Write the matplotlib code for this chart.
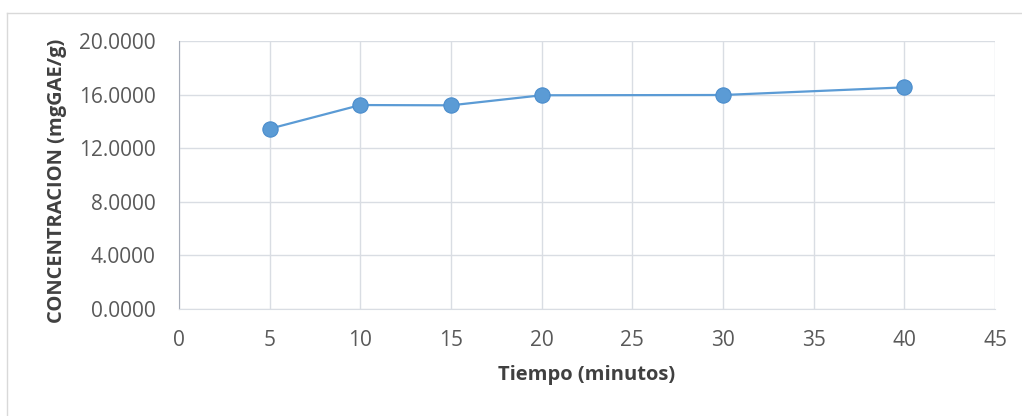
import matplotlib
matplotlib.use("Agg")
import matplotlib.pyplot as plt
from matplotlib.lines import Line2D

tiempo = [5, 10, 15, 20, 30, 40]
concentracion = [13.45, 15.22, 15.20, 15.95, 15.97, 16.54]
x_ticks = [0, 5, 10, 15, 20, 25, 30, 35, 40, 45]
y_ticks = [0, 4, 8, 12, 16, 20]

plt.rcParams['font.family'] = ['Open Sans', 'DejaVu Sans']
W, H = 1022, 416
fig = plt.figure(figsize=(W/100, H/100), dpi=100)
fig.patch.set_facecolor('white')
bx, by = 6.5/W, 1 - 12.5/H
fig.lines.append(Line2D([bx, bx], [0, by], transform=fig.transFigure, color='#d9d9d9', linewidth=1))
fig.lines.append(Line2D([bx, 1.0], [by, by], transform=fig.transFigure, color='#d9d9d9', linewidth=1))

left, right, top, bottom = 179, 995, 41, 309
ax = fig.add_axes([left/W, 1 - bottom/H, (right-left)/W, (bottom-top)/H])
ax.plot(tiempo, concentracion, color='#5b9bd5', linewidth=1.6, marker='o',
        markersize=11, markerfacecolor='#5b9bd5', markeredgecolor='#4a8ccc',
        markeredgewidth=0.8, zorder=3)
ax.set_xlim(0, 45)
ax.set_ylim(0, 20)
ax.set_xticks(x_ticks)
ax.set_yticks(y_ticks)
ax.set_yticklabels([f"{v:.4f}" for v in y_ticks])
ax.grid(True, color='#d9dde3', linewidth=1)
ax.set_axisbelow(True)
for s in ['top', 'right']:
    ax.spines[s].set_visible(False)
ax.spines['left'].set_color('#a6acb8')
ax.spines['bottom'].set_color('#d9dde3')
ax.tick_params(length=0, labelsize=15, colors='#595959')
ax.tick_params(axis='x', pad=15)
ax.tick_params(axis='y', pad=17)
ax.set_xlabel('Tiempo (minutos)', fontsize=14.5, fontweight='bold', color='#404040')
ax.set_ylabel('CONCENTRACION (mgGAE/g)', fontsize=14.5, fontweight='bold', color='#404040')
ax.xaxis.set_label_coords(0.5, (309 - 365) / 268)
ax.yaxis.set_label_coords((67 - 179) / 816, (309 - 181) / 268)
fig.savefig('out.png', dpi=100)
